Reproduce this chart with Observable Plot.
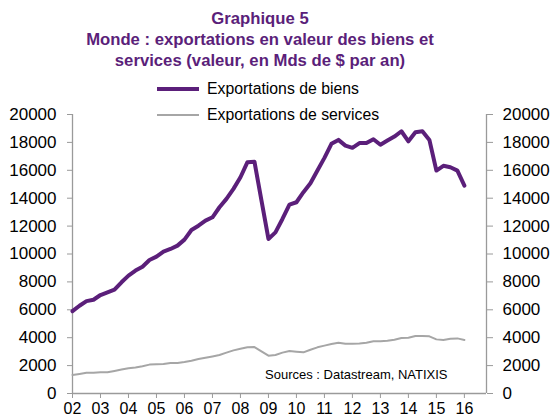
<!DOCTYPE html>
<html><head><meta charset="utf-8">
<script src="https://cdn.jsdelivr.net/npm/d3@7"></script>
<script src="https://cdn.jsdelivr.net/npm/@observablehq/plot@0.6"></script>
<style>
body{margin:0;background:#fff;font-family:"Liberation Sans",Arial,sans-serif;}
#wrap{position:relative;width:550px;height:416px;overflow:hidden;}
#title{position:absolute;left:0;top:9px;width:520px;text-align:center;font-weight:bold;font-size:16.7px;line-height:20.8px;color:#5B1F7A;}
.leg{position:absolute;left:157px;font-size:15.8px;display:flex;align-items:center;height:18px;color:#000;}
.leg span.sw{display:inline-block;width:42px;margin-right:8px;}
#src{position:absolute;left:265px;top:367px;font-size:13px;color:#000;}
#chart{position:absolute;left:0;top:0;}
</style></head>
<body>
<div id="wrap">
  <div id="chart"></div>
  <div id="title"></div>
  <div class="leg" id="leg1" style="top:80px"><span class="sw" style="border-top:4px solid #5B1F7A"></span><span class="tx"></span></div>
  <div class="leg" id="leg2" style="top:106px"><span class="sw" style="border-top:2px solid #a6a6a6"></span><span class="tx"></span></div>
  <div id="src"></div>
</div>
<script>
const titleLines = ["Graphique 5", "Monde : exportations en valeur des biens et", "services (valeur, en Mds de $ par an)"];
const seriesNames = ["Exportations de biens", "Exportations de services"];
const sourceText = "Sources : Datastream, NATIXIS";

// quarterly observations, 2002 Q1 .. 2016 Q1
const quarters = d3.range(2002, 2016.01, 0.25);
const goods = [
  5900, 6290, 6620, 6720,
  7060, 7250, 7440, 7970,
  8450, 8810, 9090, 9570,
  9810, 10170, 10360, 10600,
  11030, 11720, 12030, 12390,
  12630, 13350, 13950, 14670,
  15500, 16580, 16620, 13850,
  11080, 11550, 12510, 13540,
  13710, 14430, 15070, 15980,
  16890, 17900, 18180, 17770,
  17610, 17950, 17950, 18230,
  17830, 18130, 18420, 18800,
  18080, 18730, 18800, 18180,
  15980, 16320, 16220, 15980,
  14900
];
const services = [
  1330, 1400, 1480, 1480,
  1530, 1530, 1620, 1720,
  1810, 1860, 1950, 2070,
  2090, 2120, 2190, 2190,
  2260, 2350, 2470, 2570,
  2660, 2760, 2930, 3090,
  3210, 3310, 3330, 3020,
  2710, 2760, 2930, 3050,
  3000, 2950, 3140, 3310,
  3430, 3550, 3640, 3570,
  3570, 3590, 3640, 3740,
  3740, 3780, 3860, 3980,
  4000, 4120, 4120, 4100,
  3880, 3840, 3930, 3950,
  3840
];
const yTicks = [0, 2000, 4000, 6000, 8000, 10000, 12000, 14000, 16000, 18000, 20000];
const xTicks = [2002, 2003, 2004, 2005, 2006, 2007, 2008, 2009, 2010, 2011, 2012, 2013, 2014, 2015, 2016];
const xLabels = ["02","03","04","05","06","07","08","09","10","11","12","13","14","15","16"];
const xDomain = [2002, 2016.79];

document.getElementById("title").innerHTML = titleLines.join("<br>");
document.querySelector("#leg1 .tx").textContent = seriesNames[0];
document.querySelector("#leg2 .tx").textContent = seriesNames[1];
document.getElementById("src").textContent = sourceText;

const goodsRows = quarters.map((t, i) => ({t, v: goods[i]}));
const servRows = quarters.map((t, i) => ({t, v: services[i]}));
const axisGray = "#9a9a9a";

const chart = Plot.plot({
  width: 550, height: 416,
  marginLeft: 72, marginRight: 64, marginTop: 114, marginBottom: 23,
  style: {fontFamily: "'Liberation Sans', Arial, sans-serif", fontSize: "16px", color: "#000", background: "transparent"},
  x: {domain: xDomain},
  y: {domain: [0, 20000]},
  marks: [
    Plot.ruleX([xDomain[0]], {stroke: axisGray, strokeWidth: 1.3}),
    Plot.ruleX([xDomain[1]], {stroke: axisGray, strokeWidth: 1.3}),
    Plot.ruleY([0], {stroke: axisGray, strokeWidth: 1.3}),
    Plot.axisY(yTicks, {anchor: "left", tickSize: 5, tickPadding: 11, stroke: axisGray, tickFormat: d => String(d), label: null, fontSize: 17}),
    Plot.axisY(yTicks, {anchor: "right", tickSize: 6, tickPadding: 10, stroke: axisGray, tickFormat: d => String(d), label: null, fontSize: 17}),
    Plot.axisX(xTicks, {anchor: "bottom", tickSize: 5, tickPadding: 4, stroke: axisGray, tickFormat: d => xLabels[xTicks.indexOf(d)], label: null, fontSize: 16}),
    Plot.line(servRows, {x: "t", y: "v", stroke: "#a6a6a6", strokeWidth: 2}),
    Plot.line(goodsRows, {x: "t", y: "v", stroke: "#5B1F7A", strokeWidth: 4, strokeLinejoin: "round"})
  ]
});
document.getElementById("chart").appendChild(chart);
</script>
</body></html>
